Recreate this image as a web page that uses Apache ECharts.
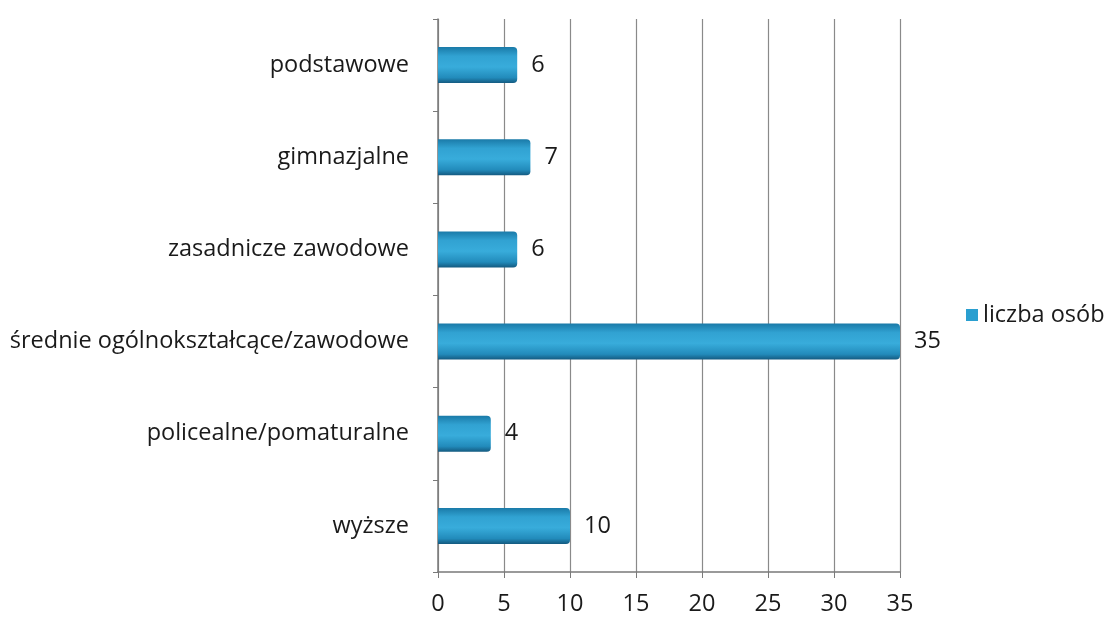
<!DOCTYPE html>
<html><head><meta charset="utf-8">
<script src="https://cdn.jsdelivr.net/npm/echarts@6/dist/echarts.min.js"></script>
<style>html,body{margin:0;padding:0;background:#fff}#c{width:1111px;height:619px}</style>
</head><body><div id="c"></div>
<script>
const categories = ['podstawowe','gimnazjalne','zasadnicze zawodowe','średnie ogólnokształcące/zawodowe','policealne/pomaturalne','wyższe'];
const values = [6,7,6,35,4,10];
const seriesName = 'liczba osób';
const xTicks = [0,5,10,15,20,25,30,35];

const FONT = 'Open Sans';
const FS = 23.5;
const chart = echarts.init(document.getElementById('c'));
const barColor = new echarts.graphic.LinearGradient(0,0,0,1,[
  {offset:0,color:'#1a7aa8'},{offset:0.25,color:'#31a2d2'},{offset:0.55,color:'#38acdb'},{offset:0.85,color:'#228bbb'},{offset:1,color:'#145a80'}]);
chart.setOption({
  animation:false,
  textStyle:{fontFamily:FONT},
  legend:{left:961,top:298,itemWidth:12,itemHeight:12,itemGap:4,
    textStyle:{fontSize:FS,color:'#1a1a1a',fontFamily:FONT},
    data:[{name:seriesName,icon:'rect',itemStyle:{color:'#2a9fd0'}}]},
  grid:{left:438,top:19,width:462,height:553},
  xAxis:{type:'value',min:0,max:35,interval:5,
    axisLine:{show:true,lineStyle:{color:'#7a7a7a',width:1.5}},
    axisTick:{show:true,length:6,lineStyle:{color:'#7a7a7a'}},
    axisLabel:{fontSize:FS,color:'#1a1a1a',margin:20,fontFamily:FONT,
      formatter:v=>xTicks.includes(v)?String(v):''},
    splitLine:{show:true,lineStyle:{color:'#8a8a8a',width:1.2}}},
  yAxis:{type:'category',inverse:true,data:categories,offset:5,
    axisLine:{show:true,lineStyle:{color:'#7a7a7a',width:1.5}},
    axisTick:{show:true,length:5,lineStyle:{color:'#7a7a7a'}},
    axisLabel:{fontSize:FS,color:'#1a1a1a',margin:24,fontFamily:FONT}},
  series:[{name:seriesName,type:'bar',data:values,barWidth:36,
    itemStyle:{color:barColor,borderRadius:[0,4,4,0]},
    label:{show:true,position:'right',distance:14,fontSize:FS,color:'#1a1a1a',fontFamily:FONT}}]
});
</script></body></html>
